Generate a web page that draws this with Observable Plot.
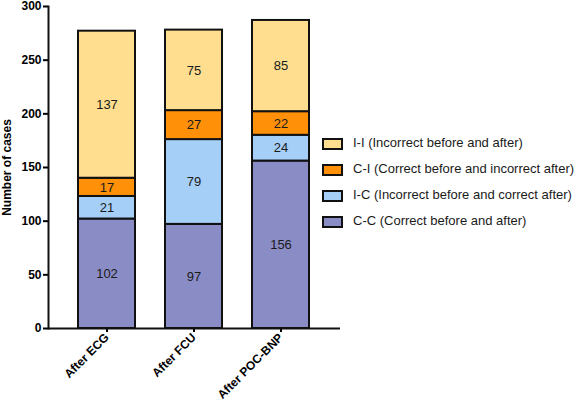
<!DOCTYPE html>
<html>
<head>
<meta charset="utf-8">
<script src="https://cdn.jsdelivr.net/npm/d3@7"></script>
<script src="https://cdn.jsdelivr.net/npm/@observablehq/plot@0.6"></script>
<style>
  html, body { margin: 0; padding: 0; background: #fff; }
  #wrap { position: relative; width: 577px; height: 409px; font-family: "Liberation Sans", Arial, sans-serif; }
  #legend { position: absolute; left: 322px; top: 0; }
  .item { position: absolute; left: 0; white-space: nowrap; font-size: 13px; color: #1a1a1a; height: 14px; line-height: 14px; }
  .sw { position: absolute; left: 0; top: 1px; width: 17px; height: 8px; border: 2px solid #111; }
  .lab { position: absolute; left: 31px; top: -1px; }
</style>
</head>
<body>
<div id="wrap"></div>
<script>
const groups = ["After ECG", "After FCU", "After POC-BNP"];
const seriesNames = [
  "C-C (Correct before and after)",
  "I-C (Incorrect before and correct after)",
  "C-I (Correct before and incorrect after)",
  "I-I (Incorrect before and after)"
];
const seriesKeys = ["C-C", "I-C", "C-I", "I-I"];
const ccValues = [102, 97, 156];
const icValues = [21, 79, 24];
const ciValues = [17, 27, 22];
const iiValues = [137, 75, 85];
const seriesColors = ["#8A8CC6", "#A6CFF7", "#FF9008", "#FFDF8F"];
const yTicks = [0, 50, 100, 150, 200, 250, 300];

const seriesValues = [ccValues, icValues, ciValues, iiValues];
const data = [];
seriesKeys.forEach((k, si) => {
  groups.forEach((g, gi) => data.push({group: g, status: k, value: seriesValues[si][gi]}));
});

const font = "'Liberation Sans', Arial, sans-serif";

const chart = Plot.plot({
  width: 577,
  height: 409,
  marginLeft: 48,
  marginRight: 237,
  marginTop: 6,
  marginBottom: 81,
  style: {fontFamily: font, background: "#fff", color: "#000", overflow: "visible"},
  x: {domain: groups, padding: 0.34},
  y: {domain: [0, 300]},
  color: {domain: seriesKeys, range: seriesColors},
  marks: [
    Plot.barY(data, {x: "group", y: "value", fill: "status", stroke: "#111", strokeWidth: 2, order: null}),
    Plot.text(data, Plot.stackY({x: "group", y: "value", z: "status", text: d => String(d.value), fill: "#1a1a1a", fontSize: 13, order: null})),
    Plot.axisY({ticks: yTicks, tickSize: 5, tickPadding: 2, strokeWidth: 2, fontWeight: "bold", fontSize: 12,
      label: "Number of cases", labelAnchor: "center", labelOffset: 46, labelArrow: "none"}),
    Plot.axisX({tickSize: 4, tickPadding: 3, strokeWidth: 2, tickRotate: -45, fontWeight: "bold", fontSize: 12, label: null}),
    Plot.ruleY([0], {strokeWidth: 2, stroke: "#111"}),
    Plot.frame({anchor: "left", strokeWidth: 2, stroke: "#111"})
  ]
});

const wrap = document.getElementById("wrap");
wrap.appendChild(chart);

// legend (top to bottom: I-I, C-I, I-C, C-C)
const legend = document.createElement("div");
legend.id = "legend";
const rowTops = [137, 163, 189, 215];
[3, 2, 1, 0].forEach((si, i) => {
  const it = document.createElement("div");
  it.className = "item";
  it.style.top = rowTops[i] + "px";
  const sw = document.createElement("div");
  sw.className = "sw";
  sw.style.background = seriesColors[si];
  const lab = document.createElement("span");
  lab.className = "lab";
  lab.textContent = seriesNames[si];
  it.appendChild(sw);
  it.appendChild(lab);
  legend.appendChild(it);
});
wrap.appendChild(legend);
</script>
</body>
</html>
